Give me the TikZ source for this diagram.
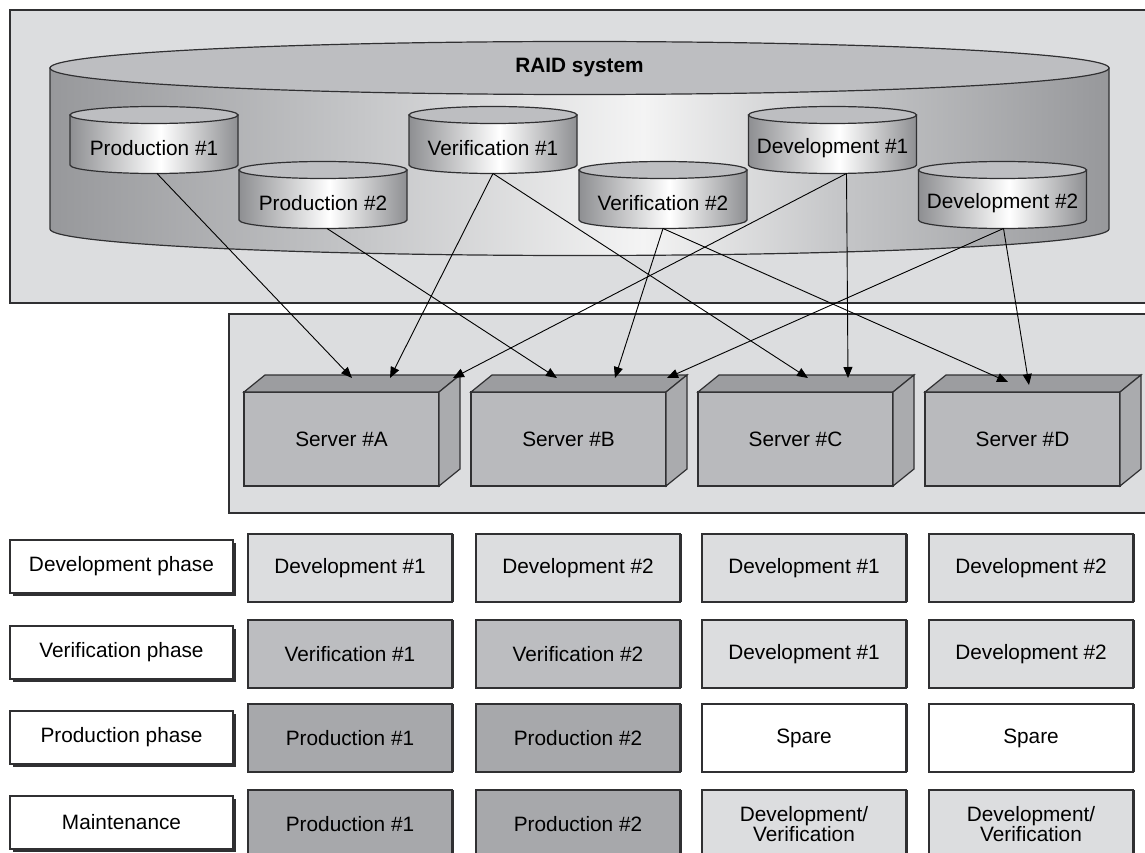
\documentclass[tikz,border=0pt]{standalone}
\usepackage{fontspec}
\setmainfont{Liberation Sans}
\usetikzlibrary{arrows.meta,shadows}

\definecolor{panel}{HTML}{DCDDDF}
\definecolor{edge}{HTML}{303032}
\definecolor{cyltop}{HTML}{BDBEC1}
\definecolor{cyldark}{HTML}{8E8F92}
\definecolor{raiddark}{HTML}{97989B}
\definecolor{raidmid}{HTML}{C6C7C9}
\definecolor{raidlight}{HTML}{F4F4F4}
\definecolor{srvfront}{HTML}{B9BABD}
\definecolor{srvtop}{HTML}{9C9DA0}
\definecolor{srvside}{HTML}{AAABAE}
\definecolor{devfill}{HTML}{DCDDDF}
\definecolor{verfill}{HTML}{BCBDC0}
\definecolor{prodfill}{HTML}{A7A8AB}

% side shadings of the disk volumes (path box maps to 25bp..75bp)
\pgfdeclarehorizontalshading{cylside}{100bp}{color(0bp)=(cyldark); color(25bp)=(cyldark); color(52bp)=(white); color(75bp)=(cyldark); color(100bp)=(cyldark)}
\pgfdeclarehorizontalshading{raidside}{100bp}{color(0bp)=(raiddark); color(25bp)=(raiddark); color(40bp)=(raidmid); color(53bp)=(raidlight); color(62bp)=(raidmid); color(75bp)=(raiddark); color(100bp)=(raiddark)}

\tikzset{
  txt/.style={font=\fontsize{20.8}{24}\selectfont, text=black},
  outline/.style={draw=edge, line width=1.2pt},
  panelbox/.style={draw=edge, line width=1.3pt, fill=panel},
  link/.style={draw=black, line width=0.9pt, -{Triangle[length=11pt,width=9pt]}},
  srvbox/.style={txt, outline, fill=srvfront, minimum width=195pt, minimum height=94pt,
    inner sep=0pt, outer sep=0pt, anchor=north west},
  cellbox/.style={txt, outline, minimum width=204pt, minimum height=68pt, inner sep=0pt,
    outer sep=0pt, align=center, anchor=north west,
    drop shadow={shadow xshift=2pt, shadow yshift=0pt, fill=edge, opacity=1}},
  phasebox/.style={txt, outline, fill=white, minimum width=223pt, minimum height=53pt,
    inner sep=0pt, outer sep=0pt, anchor=north west,
    drop shadow={shadow xshift=3pt, shadow yshift=-3pt, fill=edge, opacity=1}},
}

% disk volume: #1 name, #2 centre x, #3 top y, #4 bottom y, #5 x radius,
% #6 y radius, #7 label, #8 x offset of the outlet point
\newcommand\diskvol[8]{%
  \path[outline, shade, shading=cylside] (#2-#5,-#3) -- (#2-#5,-#4)
    arc[start angle=180, end angle=360, x radius=#5, y radius=#6] -- (#2+#5,-#3) -- cycle;
  \path[outline, fill=cyltop] (#2,-#3) ellipse [x radius=#5, y radius=#6];
  \node[txt] (#1) at (#2,{-(#3+#4)/2-#6}) {#7};
  \coordinate (#1-b) at ({#2+#8},{-(#4+#6)});
}

% server block: #1 name, #2 left x, #3 label
\newcommand\serverblock[3]{%
  \node[srvbox] (#1) at (#2,-392) {#3};
  \path[outline, fill=srvtop] (#1.north west) -- ++(21,17)
    -- ([xshift=21pt,yshift=17pt]#1.north east) -- (#1.north east) -- cycle;
  \path[outline, fill=srvside] (#1.north east) -- ++(21,17)
    -- ([xshift=21pt,yshift=17pt]#1.south east) -- (#1.south east) -- cycle;
}

\begin{document}
\begin{tikzpicture}[x=1pt,y=1pt]
\useasboundingbox (0,0) rectangle (1145,-853);
\fill[white] (0,0) rectangle (1145,-853);

% storage and server panels
\path[panelbox] (10,-10) rectangle (1147,-303);
\path[panelbox] (229,-314) rectangle (1147,-513);

% RAID enclosure
\path[outline, shade, shading=raidside] (50,-68) -- (50,-229)
  arc[start angle=180, end angle=360, x radius=529.5, y radius=26.5] -- (1109,-68) -- cycle;
\path[outline, fill=cyltop] (579.5,-68) ellipse [x radius=529.5, y radius=26.5];
\node[txt, font=\fontsize{20.8}{24}\selectfont\bfseries] (raid) at (579.5,-68) {RAID system};

% volumes
\diskvol{P1}{154}{115}{165}{84}{8.5}{Production \#1}{3}
\diskvol{V1}{493}{115}{165}{84}{8.5}{Verification \#1}{0}
\diskvol{D1}{832.5}{115}{165}{84}{8.5}{Development \#1}{14}
\diskvol{P2}{323}{170}{220}{84}{8.5}{Production \#2}{4}
\diskvol{V2}{663}{170}{220}{84}{8.5}{Verification \#2}{0}
\diskvol{D2}{1002.5}{170}{220}{84}{8.5}{Development \#2}{1}

% servers
\serverblock{SA}{244}{Server \#A}
\serverblock{SB}{471}{Server \#B}
\serverblock{SC}{698}{Server \#C}
\serverblock{SD}{925}{Server \#D}

% mount points on the server tops
\coordinate (SA-1) at (352,-378);
\coordinate (SA-2) at (390,-378);
\coordinate (SA-3) at (453,-378);
\coordinate (SB-1) at (557,-378);
\coordinate (SB-2) at (615,-378);
\coordinate (SB-3) at (667,-378);
\coordinate (SC-1) at (808,-378);
\coordinate (SC-2) at (848,-378);
\coordinate (SD-1) at (1008,-382);
\coordinate (SD-2) at (1029,-385);

% volume-to-server connections
\draw[link] (P1-b) -- (SA-1);
\draw[link] (V1-b) -- (SA-2);
\draw[link] (D1-b) -- (SA-3);
\draw[link] (P2-b) -- (SB-1);
\draw[link] (V2-b) -- (SB-2);
\draw[link] (D2-b) -- (SB-3);
\draw[link] (V1-b) -- (SC-1);
\draw[link] (D1-b) -- (SC-2);
\draw[link] (V2-b) -- (SD-1);
\draw[link] (D2-b) -- (SD-2);

% phase labels
\node[phasebox] (ph1) at (10,-540) {Development phase};
\node[phasebox] (ph2) at (10,-626) {Verification phase};
\node[phasebox] (ph3) at (10,-711) {Production phase};
\node[phasebox] (ph4) at (10,-796) {Maintenance};

% allocation table
\node[cellbox, fill=devfill] (c11) at (248,-534) {Development \#1};
\node[cellbox, fill=devfill] (c12) at (476,-534) {Development \#2};
\node[cellbox, fill=devfill] (c13) at (702,-534) {Development \#1};
\node[cellbox, fill=devfill] (c14) at (929,-534) {Development \#2};

\node[cellbox, fill=verfill] (c21) at (248,-620) {Verification \#1};
\node[cellbox, fill=verfill] (c22) at (476,-620) {Verification \#2};
\node[cellbox, fill=devfill] (c23) at (702,-620) {Development \#1};
\node[cellbox, fill=devfill] (c24) at (929,-620) {Development \#2};

\node[cellbox, fill=prodfill] (c31) at (248,-704) {Production \#1};
\node[cellbox, fill=prodfill] (c32) at (476,-704) {Production \#2};
\node[cellbox, fill=white] (c33) at (702,-704) {Spare};
\node[cellbox, fill=white] (c34) at (929,-704) {Spare};

\node[cellbox, fill=prodfill] (c41) at (248,-790) {Production \#1};
\node[cellbox, fill=prodfill] (c42) at (476,-790) {Production \#2};
\node[cellbox, fill=devfill, font=\fontsize{20.8}{20}\selectfont] (c43) at (702,-790) {Development/\\Verification};
\node[cellbox, fill=devfill, font=\fontsize{20.8}{20}\selectfont] (c44) at (929,-790) {Development/\\Verification};
\end{tikzpicture}
\end{document}
